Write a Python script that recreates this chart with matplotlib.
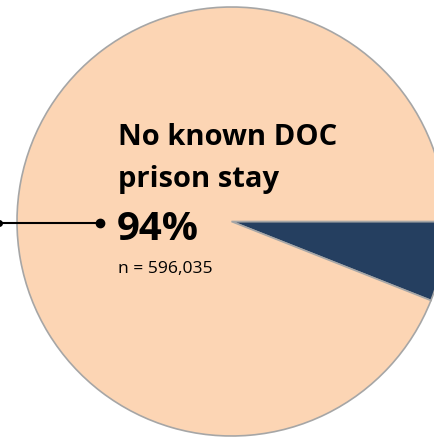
import matplotlib.pyplot as plt

# data
categories = ["Known DOC prison stay", "No known DOC prison stay"]
shares = [6, 94]
n_no_stay = 596035
colors = ["#253F60", "#FCD5B4"]

W, H = 434, 437
fig = plt.figure(figsize=(W / 100, H / 100), dpi=100)
ax = fig.add_axes([0, 0, 1, 1])

cx, cy, r = 231.5, H - 221.5, 214.5
ax.pie(shares, colors=colors, startangle=0, counterclock=False,
       center=(cx, cy), radius=r, frame=True,
       wedgeprops=dict(edgecolor="#A6A6A6", linewidth=1.2))
ax.set_xlim(0, W)
ax.set_ylim(0, H)
ax.set_aspect("equal")
ax.axis("off")

font = "Open Sans"
ax.text(118, H - 145, "No known DOC", fontfamily=font, fontweight="bold",
        fontsize=21, color="black", va="baseline", ha="left")
ax.text(118, H - 187, "prison stay", fontfamily=font, fontweight="bold",
        fontsize=21, color="black", va="baseline", ha="left")
ax.text(117, H - 240, f"{shares[1]}%", fontfamily=font, fontweight="bold",
        fontsize=29, color="black", va="baseline", ha="left")
ax.text(118, H - 273, f"n = {n_no_stay:,}", fontfamily=font,
        fontsize=12.6, color="black", va="baseline", ha="left")

# leader line
ax.plot([-2, 100], [H - 222.5, H - 222.5], color="black", lw=1.5,
        clip_on=False)
ax.plot([100], [H - 222.5], "o", color="black", ms=6)
ax.plot([-1], [H - 222.5], "o", color="black", ms=4)

fig.savefig("out.png", dpi=100)
